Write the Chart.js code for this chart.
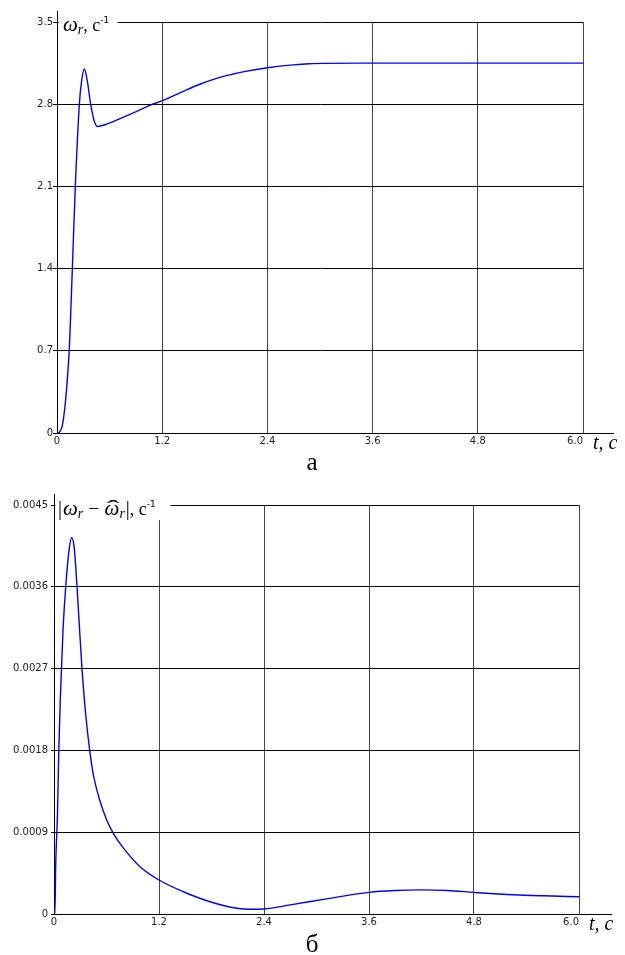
<!DOCTYPE html>
<html>
<head>
<meta charset="utf-8">
<script src="https://cdn.jsdelivr.net/npm/chart.js@4/dist/chart.umd.min.js"></script>
<style>
  html, body { margin: 0; padding: 0; background: #fff; }
  #wrap { position: relative; width: 625px; height: 955px; background: #fff; }
  canvas { position: absolute; left: 0; }
</style>
</head>
<body>
<div id="wrap">
  <canvas id="ca" width="625" height="477" style="top:0px"></canvas>
  <canvas id="cb" width="625" height="478" style="top:477px"></canvas>
</div>
<script>
// ---- data ----
const tA = [0, 0.03, 0.06, 0.09, 0.11, 0.127, 0.141, 0.158, 0.175, 0.209, 0.255, 0.281, 0.312, 0.345, 0.384, 0.42, 0.46, 0.565, 0.79, 1.06, 1.2, 1.44, 1.63, 1.82, 2.0, 2.12, 2.4, 2.69, 2.88, 3.1, 3.4, 4.0, 5.0, 6.0];
const wA = [0, 0.01, 0.06, 0.22, 0.38, 0.55, 0.72, 1.05, 1.4, 2.1, 2.8, 3.0, 3.10, 3.0, 2.8, 2.67, 2.61, 2.63, 2.70, 2.79, 2.83, 2.91, 2.97, 3.02, 3.055, 3.075, 3.11, 3.135, 3.145, 3.148, 3.15, 3.15, 3.15, 3.15];

const tB = [0, 0.01, 0.02, 0.04, 0.054, 0.073, 0.103, 0.134, 0.168, 0.2, 0.23, 0.263, 0.288, 0.32, 0.36, 0.408, 0.45, 0.522, 0.6, 0.678, 0.79, 0.983, 1.2, 1.478, 1.783, 2.09, 2.24, 2.4, 2.7, 3.15, 3.6, 3.9, 4.2, 4.5, 4.8, 5.25, 5.6, 6.0];
const eB = [0, 0, 0.00056, 0.00111, 0.00177, 0.00239, 0.00312, 0.0036, 0.00397, 0.00414, 0.00404, 0.0036, 0.0032, 0.0027, 0.00222, 0.0018, 0.00153, 0.001254, 0.00104, 0.000888, 0.00073, 0.00052, 0.000374, 0.000245, 0.000135, 0.000063, 0.000052, 0.000055, 0.0001, 0.000172, 0.000238, 0.000258, 0.000265, 0.000258, 0.000238, 0.000212, 0.0002, 0.00019];

const xTicks = [0, 1.2, 2.4, 3.6, 4.8, 6.0];
const xTickLabels = ['0', '1.2', '2.4', '3.6', '4.8', '6.0'];
const yTicksA = [0, 0.7, 1.4, 2.1, 2.8, 3.5];
const yTickLabelsA = ['0', '0.7', '1.4', '2.1', '2.8', '3.5'];
const yTicksB = [0, 0.0009, 0.0018, 0.0027, 0.0036, 0.0045];
const yTickLabelsB = ['0', '0.0009', '0.0018', '0.0027', '0.0036', '0.0045'];

// ---- helpers ----
const TICK_FONT = { family: 'DejaVu Sans', size: 10 };
const SERIF = '"Liberation Serif", "DejaVu Serif", serif';

function drawRuns(ctx, x, y, runs) {
  ctx.save();
  ctx.fillStyle = '#000';
  ctx.textBaseline = 'alphabetic';
  ctx.textAlign = 'left';
  for (const r of runs) {
    ctx.font = r.font;
    const x0 = x + (r.dx || 0);
    ctx.fillText(r.text, x0, y + (r.dy || 0));
    const w = ctx.measureText(r.text).width;
    if (r.hat) {
      ctx.save();
      ctx.translate(x0 + w / 2 + 1, y - 2);
      ctx.scale(2.1, 1);
      ctx.font = '18px ' + SERIF;
      ctx.textAlign = 'center';
      ctx.fillText('\u02C6', 0, 0);
      ctx.restore();
      ctx.textAlign = 'left';
    }
    x = x0 + w;
  }
  ctx.restore();
  return x;
}

function decoPlugin(cfg) {
  return {
    id: 'deco',
    afterDraw(chart) {
      const ctx = chart.ctx, ca = chart.chartArea;
      const L = Math.round(ca.left) + 0.5, B = Math.round(ca.bottom) + 0.5;
      ctx.save();
      ctx.strokeStyle = '#000';
      ctx.lineWidth = 1;
      ctx.beginPath();
      ctx.moveTo(L, ca.top - cfg.yExt);
      ctx.lineTo(L, ca.top + 1);
      ctx.moveTo(ca.right - 1, B);
      ctx.lineTo(ca.right + cfg.xExt, B);
      ctx.stroke();
      // title background box
      ctx.fillStyle = '#fff';
      ctx.fillRect(L + 1, ca.top - cfg.boxUp, cfg.boxW, cfg.boxH);
      ctx.restore();
      cfg.title(ctx, ca);
      // x axis name
      drawRuns(ctx, ca.right + 10, B + cfg.tDy, [
        { text: 't', font: 'italic 20px ' + SERIF },
        { text: ', ', font: 'italic 20px ' + SERIF },
        { text: 'c', font: 'italic 20px ' + SERIF }
      ]);
      // panel letter
      ctx.save();
      ctx.fillStyle = '#000';
      ctx.font = '25px ' + SERIF;
      ctx.textAlign = 'center';
      ctx.textBaseline = 'alphabetic';
      ctx.fillText(cfg.letter, 312, cfg.letterY);
      ctx.restore();
    }
  };
}

function makeChart(id, xs, ys, yTicks, yLabels, yMax, yW, pad, yTickLen, yPad, deco) {
  const pts = xs.map((t, i) => ({ x: t, y: ys[i] }));
  return new Chart(document.getElementById(id), {
    type: 'line',
    data: { datasets: [{
      data: pts,
      borderColor: '#0000ff',
      borderWidth: 1.4,
      pointRadius: 0,
      cubicInterpolationMode: 'monotone',
      fill: false
    }]},
    options: {
      responsive: false,
      animation: false,
      devicePixelRatio: 1,
      layout: { padding: pad },
      plugins: { legend: { display: false }, tooltip: { enabled: false }, title: { display: false } },
      scales: {
        x: {
          type: 'linear', min: 0, max: 6,
          afterBuildTicks: s => { s.ticks = xTicks.map(v => ({ value: v })); },
          afterFit: s => { s.height = 20; },
          ticks: {
            autoSkip: false, maxRotation: 0, padding: 2, color: '#222', font: TICK_FONT,
            callback: (v, i) => i === xTicks.length - 1 ? xTickLabels[i] + '\u2007\u2007 ' : xTickLabels[i]
          },
          grid: { color: '#444', lineWidth: 1, drawTicks: false },
          border: { display: true, color: '#000', width: 1 }
        },
        y: {
          type: 'linear', min: 0, max: yMax,
          afterBuildTicks: s => { s.ticks = yTicks.map(v => ({ value: v })); },
          afterFit: s => { s.width = yW; },
          ticks: {
            autoSkip: false, padding: yPad, color: '#222', font: TICK_FONT,
            callback: (v, i) => yLabels[i]
          },
          grid: { color: '#000', lineWidth: 1, tickLength: yTickLen },
          border: { display: true, color: '#000', width: 1 }
        }
      }
    },
    plugins: [decoPlugin(deco)]
  });
}

// chart a
makeChart('ca', tA, wA, yTicksA, yTickLabelsA, 3.5, 57,
  { left: 0, top: 22, right: 42, bottom: 24 }, 4, 0,
  {
    yExt: 11, xExt: 31, boxUp: 11, boxW: 59, boxH: 23, tDy: 15,
    letter: 'а', letterY: 470,
    title(ctx, ca) {
      const y = ca.top + 9;
      drawRuns(ctx, ca.left + 6, y, [
        { text: 'ω', font: 'italic 21px ' + SERIF },
        { text: 'r', font: 'italic 14px ' + SERIF, dy: 3 },
        { text: ', ', font: '18px ' + SERIF },
        { text: 'с', font: '18px ' + SERIF },
        { text: '-1', font: '9px "DejaVu Sans"', dy: -8 }
      ]);
    }
  });

// chart б
makeChart('cb', tB, eB, yTicksB, yTickLabelsB, 0.0045, 54,
  { left: 0, top: 28, right: 46, bottom: 21 }, 3, 3,
  {
    yExt: 11, xExt: 33, boxUp: 13, boxW: 115, boxH: 28, tDy: 15,
    letter: 'б', letterY: 475,
    title(ctx, ca) {
      const y = ca.top + 10;
      drawRuns(ctx, ca.left + 4, y, [
        { text: '|', font: '20px ' + SERIF },
        { text: 'ω', font: 'italic 21px ' + SERIF, dx: 1 },
        { text: 'r', font: 'italic 14px ' + SERIF, dy: 3 },
        { text: ' − ', font: '20px ' + SERIF },
        { text: 'ω', font: 'italic 21px ' + SERIF, hat: true },
        { text: 'r', font: 'italic 14px ' + SERIF, dy: 3 },
        { text: '|', font: '20px ' + SERIF, dx: 1 },
        { text: ', ', font: '18px ' + SERIF },
        { text: 'с', font: '18px ' + SERIF },
        { text: '-1', font: '9px "DejaVu Sans"', dy: -8 }
      ]);
    }
  });
</script>
</body>
</html>
